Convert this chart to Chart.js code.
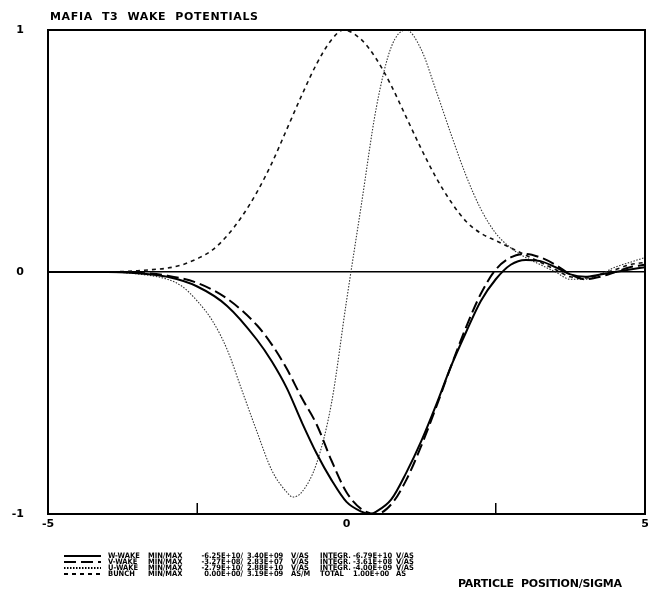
<!DOCTYPE html>
<html>
<head>
<meta charset="utf-8">
<script src="https://cdn.jsdelivr.net/npm/chart.js@4.4.0/dist/chart.umd.min.js"></script>
<style>
html,body{margin:0;padding:0;background:#fff;}
#wrap{width:648px;height:593px;position:relative;}
</style>
</head>
<body>
<div id="wrap"><canvas id="c" width="648" height="593"></canvas></div>
<script>
// ---- data ----
const chartTitle = "MAFIA  T3  WAKE  POTENTIALS";
const xAxisTitle = "PARTICLE  POSITION/SIGMA";
const xTickValues = [-5, 0, 5];
const yTickValues = [-1, 0, 1];
const minorTickValues = [-2.5, 2.5];

const wX = [-5,-4,-3.5,-3,-2.5,-2,-1.5,-1.25,-1,-0.75,-0.5,-0.25,0,0.25,0.4,0.5,0.75,1,1.25,1.5,1.75,2,2.25,2.5,2.75,3,3.25,3.5,3.75,4,4.25,4.5,4.75,5];
const wY = [0,0,-0.005,-0.02,-0.06,-0.14,-0.28,-0.37,-0.48,-0.62,-0.75,-0.86,-0.95,-0.99,-1.0,-0.99,-0.94,-0.83,-0.7,-0.55,-0.39,-0.25,-0.12,-0.03,0.03,0.05,0.045,0.02,-0.01,-0.02,-0.01,0.0,0.01,0.02];

const vX = [-5,-4,-3.5,-3,-2.5,-2,-1.5,-1.25,-1,-0.75,-0.5,-0.25,0,0.25,0.5,0.75,1,1.25,1.5,1.75,2,2.25,2.5,2.75,3,3.25,3.5,3.75,4,4.25,4.5,4.75,5];
const vY = [0,0,-0.003,-0.015,-0.045,-0.11,-0.22,-0.3,-0.4,-0.52,-0.63,-0.78,-0.91,-0.98,-1.0,-0.96,-0.86,-0.72,-0.56,-0.39,-0.23,-0.09,0.01,0.06,0.075,0.06,0.03,-0.01,-0.03,-0.02,0.0,0.02,0.03];

const uX = [-5,-4,-3.5,-3,-2.75,-2.5,-2.25,-2,-1.75,-1.5,-1.25,-1,-0.9,-0.75,-0.5,-0.25,0,0.25,0.5,0.75,1,1.25,1.5,1.75,2,2.25,2.5,2.75,3,3.25,3.5,3.75,4,4.25,4.5,4.75,5];
const uY = [0,0,-0.008,-0.03,-0.06,-0.12,-0.2,-0.32,-0.49,-0.66,-0.82,-0.91,-0.93,-0.91,-0.79,-0.54,-0.12,0.28,0.68,0.93,1.0,0.92,0.75,0.57,0.4,0.26,0.16,0.1,0.06,0.03,0.0,-0.03,-0.03,-0.01,0.02,0.04,0.06];

const bX = [-5,-4.5,-4,-3.75,-3.5,-3.25,-3,-2.75,-2.5,-2.25,-2,-1.75,-1.5,-1.25,-1,-0.75,-0.5,-0.25,-0.05,0.25,0.5,0.75,1,1.25,1.5,1.75,2,2.25,2.5,2.75,3,3.25,3.5,3.75,4,4.25,4.5,4.75,5];
const bY = [0,0,0,0.002,0.005,0.01,0.016,0.03,0.055,0.09,0.15,0.23,0.33,0.45,0.59,0.73,0.86,0.96,1.0,0.96,0.88,0.77,0.64,0.51,0.39,0.29,0.21,0.16,0.13,0.1,0.07,0.04,0.01,-0.02,-0.025,-0.01,0.01,0.03,0.04];

const legendNames = ["W-WAKE", "V-WAKE", "U-WAKE", "BUNCH"];
const legendMinMaxLabel = ["MIN/MAX", "MIN/MAX", "MIN/MAX", "MIN/MAX"];
const legendMin = ["-6.25E+10/", "-3.27E+08/", "-2.79E+10/", "0.00E+00/"];
const legendMax = ["3.40E+09", "2.83E+07", "2.88E+10", "3.19E+09"];
const legendUnit1 = ["V/AS", "V/AS", "V/AS", "AS/M"];
const legendIntLabel = ["INTEGR.", "INTEGR.", "INTEGR.", "TOTAL"];
const legendInt = ["-6.79E+10", "-3.61E+08", "-4.00E+09", "1.00E+00"];
const legendUnit2 = ["V/AS", "V/AS", "V/AS", "AS"];

function pts(xs, ys){ return xs.map((x,i)=>({x:x, y:ys[i]})); }

const styles = [
  {borderColor:'#000', borderWidth:2, borderDash:[]},
  {borderColor:'#000', borderWidth:2, borderDash:[12,5]},
  {borderColor:'#333', borderWidth:1.1, borderDash:[1.5,1.5]},
  {borderColor:'#111', borderWidth:1.6, borderDash:[4,4]}
];

function fitText(ctx, txt, x, y, w){
  ctx.letterSpacing = '0px';
  const m = ctx.measureText(txt).width;
  const ls = (w - m) / Math.max(1, txt.length - 1);
  ctx.letterSpacing = ls.toFixed(2) + 'px';
  ctx.fillText(txt, x, y);
  ctx.letterSpacing = '0px';
}

const framePlugin = {
  id:'frame',
  afterDraw(chart){
    const ctx = chart.ctx, a = chart.chartArea;
    const xs = chart.scales.x;
    ctx.save();
    ctx.strokeStyle = '#000';
    ctx.lineWidth = 2;
    ctx.setLineDash([]);
    ctx.strokeRect(a.left, a.top, a.right - a.left, a.bottom - a.top);
    ctx.lineWidth = 1.5;
    minorTickValues.forEach(v=>{
      const px = xs.getPixelForValue(v);
      ctx.beginPath(); ctx.moveTo(px, a.bottom); ctx.lineTo(px, a.bottom - 11); ctx.stroke();
    });
    ctx.fillStyle = '#000';
    ctx.font = 'bold 11px "DejaVu Sans", sans-serif';
    ctx.textBaseline = 'alphabetic';
    ctx.textAlign = 'left';
    fitText(ctx, chartTitle, 50, 20, 208);
    fitText(ctx, xAxisTitle, 458, 587, 164);
    const rowY = [556, 562, 568, 574];
    const cols = [
      {arr:legendNames, x:108},
      {arr:legendMinMaxLabel, x:148},
      {arr:legendMin, x:180, right:243},
      {arr:legendMax, x:247},
      {arr:legendUnit1, x:291},
      {arr:legendIntLabel, x:320},
      {arr:legendInt, x:353},
      {arr:legendUnit2, x:396}
    ];
    ctx.font = 'bold 7.5px "DejaVu Sans Condensed", "DejaVu Sans", sans-serif';
    ctx.textBaseline = 'middle';
    rowY.forEach((y,i)=>{
      const st = chart.data.datasets[i];
      ctx.save();
      ctx.strokeStyle = '#000';
      ctx.lineWidth = 2;
      ctx.setLineDash(i===2 ? [1.5,1.5] : st.borderDash);
      ctx.beginPath(); ctx.moveTo(64, y); ctx.lineTo(101, y); ctx.stroke();
      ctx.restore();
      cols.forEach(c=>{
        if(c.right){ ctx.textAlign='right'; ctx.fillText(c.arr[i], c.right, y); ctx.textAlign='left'; }
        else ctx.fillText(c.arr[i], c.x, y);
      });
    });
    ctx.restore();
  }
};

const ds = [[wX,wY],[vX,vY],[uX,uY],[bX,bY]].map((d,i)=>Object.assign({
  label: legendNames[i],
  data: pts(d[0], d[1]),
  showLine:true,
  pointRadius:0,
  fill:false,
  cubicInterpolationMode:'monotone'
}, styles[i]));

new Chart(document.getElementById('c'), {
  type:'scatter',
  data:{datasets:ds},
  options:{
    responsive:false,
    animation:false,
    devicePixelRatio:1,
    layout:{padding:{top:30,right:3,left:0,bottom:0}},
    plugins:{legend:{display:false}, title:{display:false}, tooltip:{enabled:false}},
    scales:{
      x:{
        type:'linear', min:-5, max:5,
        afterBuildTicks(s){ s.ticks = xTickValues.map(v=>({value:v})); },
        afterFit(s){ s.height = 79; s.paddingLeft = 0; s.paddingRight = 0; },
        ticks:{color:'#000', padding:4, maxRotation:0, font:{family:'"DejaVu Sans", sans-serif', size:11, weight:'bold'}},
        grid:{display:true, drawOnChartArea:false, drawTicks:false},
        border:{display:true, color:'#000', width:2}
      },
      y:{
        type:'linear', min:-1, max:1,
        afterBuildTicks(s){ s.ticks = yTickValues.map(v=>({value:v})); },
        afterFit(s){ s.width = 48; s.paddingTop = 0; s.paddingBottom = 0; },
        ticks:{color:'#000', padding:24, font:{family:'"DejaVu Sans", sans-serif', size:11, weight:'bold'}},
        grid:{drawTicks:false, color:(c)=> (c.tick && c.tick.value===0) ? '#000' : 'rgba(0,0,0,0)', lineWidth:1.5},
        border:{display:true, color:'#000', width:2}
      }
    }
  },
  plugins:[framePlugin]
});
</script>
</body>
</html>
